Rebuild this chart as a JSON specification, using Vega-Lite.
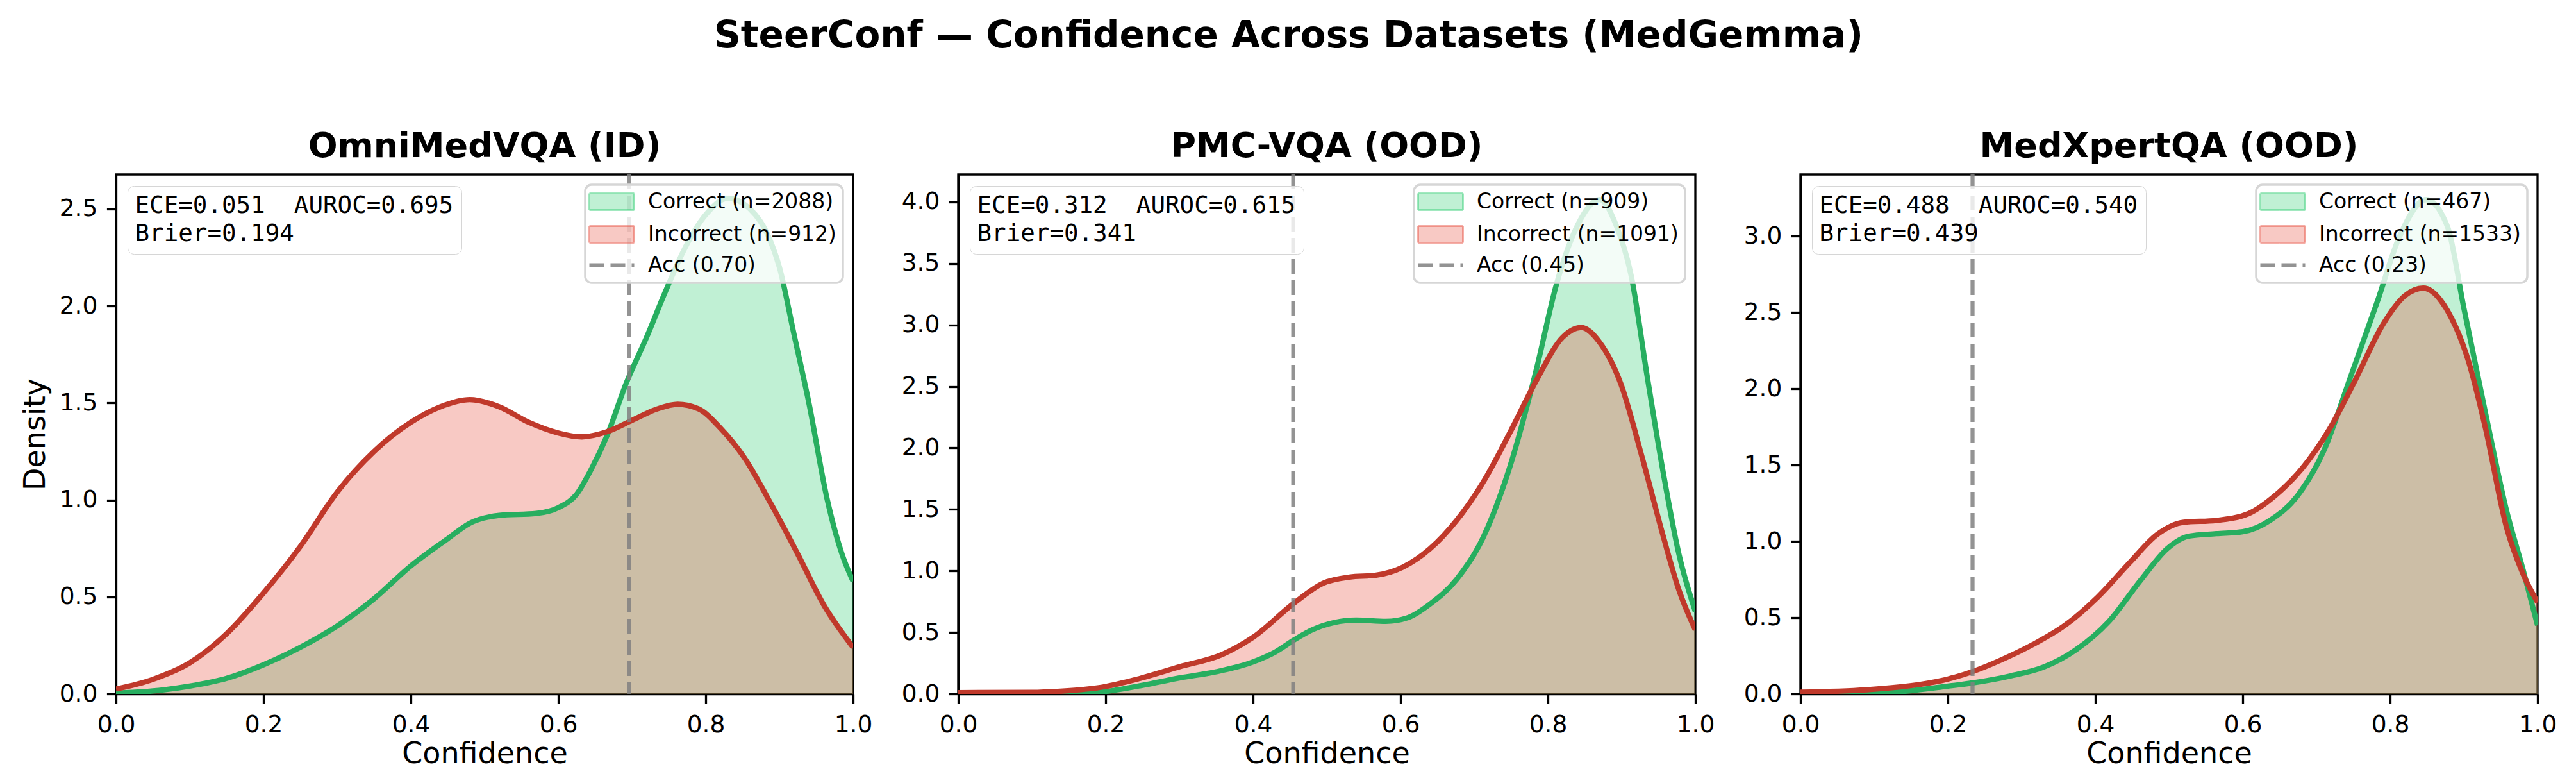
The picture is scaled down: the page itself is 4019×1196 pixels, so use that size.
{
  "$schema": "https://vega.github.io/schema/vega-lite/v6.json",
  "background": "white",
  "padding": {"left": 30, "top": 28, "right": 20, "bottom": 10},
  "title": {"text": "SteerConf — Confidence Across Datasets (MedGemma)", "font": "DejaVu Sans", "fontSize": 58, "fontWeight": "bold", "color": "black", "anchor": "middle", "offset": 114},
  "spacing": 164,
  "bounds": "flush",
  "datasets": {
    "curves": [
      {"panel": "Omni", "series": "Correct (n=2088)", "conf": 0, "density": 0.004},
      {"panel": "Omni", "series": "Correct (n=2088)", "conf": 0.05, "density": 0.015},
      {"panel": "Omni", "series": "Correct (n=2088)", "conf": 0.1, "density": 0.04},
      {"panel": "Omni", "series": "Correct (n=2088)", "conf": 0.15, "density": 0.08},
      {"panel": "Omni", "series": "Correct (n=2088)", "conf": 0.2, "density": 0.15},
      {"panel": "Omni", "series": "Correct (n=2088)", "conf": 0.25, "density": 0.24},
      {"panel": "Omni", "series": "Correct (n=2088)", "conf": 0.3, "density": 0.35},
      {"panel": "Omni", "series": "Correct (n=2088)", "conf": 0.35, "density": 0.49},
      {"panel": "Omni", "series": "Correct (n=2088)", "conf": 0.4, "density": 0.66},
      {"panel": "Omni", "series": "Correct (n=2088)", "conf": 0.45, "density": 0.8},
      {"panel": "Omni", "series": "Correct (n=2088)", "conf": 0.48, "density": 0.88},
      {"panel": "Omni", "series": "Correct (n=2088)", "conf": 0.52, "density": 0.92},
      {"panel": "Omni", "series": "Correct (n=2088)", "conf": 0.57, "density": 0.93},
      {"panel": "Omni", "series": "Correct (n=2088)", "conf": 0.6, "density": 0.96},
      {"panel": "Omni", "series": "Correct (n=2088)", "conf": 0.625, "density": 1.03},
      {"panel": "Omni", "series": "Correct (n=2088)", "conf": 0.645, "density": 1.16},
      {"panel": "Omni", "series": "Correct (n=2088)", "conf": 0.666, "density": 1.33},
      {"panel": "Omni", "series": "Correct (n=2088)", "conf": 0.692, "density": 1.6},
      {"panel": "Omni", "series": "Correct (n=2088)", "conf": 0.72, "density": 1.84},
      {"panel": "Omni", "series": "Correct (n=2088)", "conf": 0.746, "density": 2.08},
      {"panel": "Omni", "series": "Correct (n=2088)", "conf": 0.772, "density": 2.3},
      {"panel": "Omni", "series": "Correct (n=2088)", "conf": 0.8, "density": 2.47},
      {"panel": "Omni", "series": "Correct (n=2088)", "conf": 0.83, "density": 2.555},
      {"panel": "Omni", "series": "Correct (n=2088)", "conf": 0.86, "density": 2.5},
      {"panel": "Omni", "series": "Correct (n=2088)", "conf": 0.885, "density": 2.36},
      {"panel": "Omni", "series": "Correct (n=2088)", "conf": 0.9, "density": 2.2},
      {"panel": "Omni", "series": "Correct (n=2088)", "conf": 0.92, "density": 1.85},
      {"panel": "Omni", "series": "Correct (n=2088)", "conf": 0.94, "density": 1.5},
      {"panel": "Omni", "series": "Correct (n=2088)", "conf": 0.965, "density": 1.0},
      {"panel": "Omni", "series": "Correct (n=2088)", "conf": 0.985, "density": 0.72},
      {"panel": "Omni", "series": "Correct (n=2088)", "conf": 1.0, "density": 0.58},
      {"panel": "Omni", "series": "Incorrect (n=912)", "conf": 0, "density": 0.025},
      {"panel": "Omni", "series": "Incorrect (n=912)", "conf": 0.05, "density": 0.075},
      {"panel": "Omni", "series": "Incorrect (n=912)", "conf": 0.1, "density": 0.16},
      {"panel": "Omni", "series": "Incorrect (n=912)", "conf": 0.15, "density": 0.31},
      {"panel": "Omni", "series": "Incorrect (n=912)", "conf": 0.2, "density": 0.52},
      {"panel": "Omni", "series": "Incorrect (n=912)", "conf": 0.25, "density": 0.76},
      {"panel": "Omni", "series": "Incorrect (n=912)", "conf": 0.3, "density": 1.04},
      {"panel": "Omni", "series": "Incorrect (n=912)", "conf": 0.35, "density": 1.25},
      {"panel": "Omni", "series": "Incorrect (n=912)", "conf": 0.4, "density": 1.4},
      {"panel": "Omni", "series": "Incorrect (n=912)", "conf": 0.44, "density": 1.48},
      {"panel": "Omni", "series": "Incorrect (n=912)", "conf": 0.48, "density": 1.517},
      {"panel": "Omni", "series": "Incorrect (n=912)", "conf": 0.52, "density": 1.48},
      {"panel": "Omni", "series": "Incorrect (n=912)", "conf": 0.56, "density": 1.4},
      {"panel": "Omni", "series": "Incorrect (n=912)", "conf": 0.6, "density": 1.345},
      {"panel": "Omni", "series": "Incorrect (n=912)", "conf": 0.632, "density": 1.325},
      {"panel": "Omni", "series": "Incorrect (n=912)", "conf": 0.665, "density": 1.35},
      {"panel": "Omni", "series": "Incorrect (n=912)", "conf": 0.7, "density": 1.41},
      {"panel": "Omni", "series": "Incorrect (n=912)", "conf": 0.735, "density": 1.47},
      {"panel": "Omni", "series": "Incorrect (n=912)", "conf": 0.762, "density": 1.493},
      {"panel": "Omni", "series": "Incorrect (n=912)", "conf": 0.79, "density": 1.47},
      {"panel": "Omni", "series": "Incorrect (n=912)", "conf": 0.82, "density": 1.37},
      {"panel": "Omni", "series": "Incorrect (n=912)", "conf": 0.852, "density": 1.22},
      {"panel": "Omni", "series": "Incorrect (n=912)", "conf": 0.89, "density": 0.97},
      {"panel": "Omni", "series": "Incorrect (n=912)", "conf": 0.925, "density": 0.72},
      {"panel": "Omni", "series": "Incorrect (n=912)", "conf": 0.96, "density": 0.46},
      {"panel": "Omni", "series": "Incorrect (n=912)", "conf": 1.0, "density": 0.24},

      {"panel": "PMC", "series": "Correct (n=909)", "conf": 0, "density": 0},
      {"panel": "PMC", "series": "Correct (n=909)", "conf": 0.1, "density": 0.0},
      {"panel": "PMC", "series": "Correct (n=909)", "conf": 0.15, "density": 0.005},
      {"panel": "PMC", "series": "Correct (n=909)", "conf": 0.2, "density": 0.02},
      {"panel": "PMC", "series": "Correct (n=909)", "conf": 0.25, "density": 0.07},
      {"panel": "PMC", "series": "Correct (n=909)", "conf": 0.3, "density": 0.13},
      {"panel": "PMC", "series": "Correct (n=909)", "conf": 0.35, "density": 0.18},
      {"panel": "PMC", "series": "Correct (n=909)", "conf": 0.4, "density": 0.26},
      {"panel": "PMC", "series": "Correct (n=909)", "conf": 0.43, "density": 0.34},
      {"panel": "PMC", "series": "Correct (n=909)", "conf": 0.456, "density": 0.44},
      {"panel": "PMC", "series": "Correct (n=909)", "conf": 0.48, "density": 0.52},
      {"panel": "PMC", "series": "Correct (n=909)", "conf": 0.51, "density": 0.58},
      {"panel": "PMC", "series": "Correct (n=909)", "conf": 0.54, "density": 0.6},
      {"panel": "PMC", "series": "Correct (n=909)", "conf": 0.58, "density": 0.59},
      {"panel": "PMC", "series": "Correct (n=909)", "conf": 0.61, "density": 0.62},
      {"panel": "PMC", "series": "Correct (n=909)", "conf": 0.64, "density": 0.73},
      {"panel": "PMC", "series": "Correct (n=909)", "conf": 0.676, "density": 0.93},
      {"panel": "PMC", "series": "Correct (n=909)", "conf": 0.712, "density": 1.27},
      {"panel": "PMC", "series": "Correct (n=909)", "conf": 0.748, "density": 1.84},
      {"panel": "PMC", "series": "Correct (n=909)", "conf": 0.784, "density": 2.63},
      {"panel": "PMC", "series": "Correct (n=909)", "conf": 0.812, "density": 3.34},
      {"panel": "PMC", "series": "Correct (n=909)", "conf": 0.841, "density": 3.82},
      {"panel": "PMC", "series": "Correct (n=909)", "conf": 0.87, "density": 4.02},
      {"panel": "PMC", "series": "Correct (n=909)", "conf": 0.892, "density": 3.82},
      {"panel": "PMC", "series": "Correct (n=909)", "conf": 0.913, "density": 3.4},
      {"panel": "PMC", "series": "Correct (n=909)", "conf": 0.935, "density": 2.57},
      {"panel": "PMC", "series": "Correct (n=909)", "conf": 0.957, "density": 1.78},
      {"panel": "PMC", "series": "Correct (n=909)", "conf": 0.978, "density": 1.13},
      {"panel": "PMC", "series": "Correct (n=909)", "conf": 1.0, "density": 0.67},
      {"panel": "PMC", "series": "Incorrect (n=1091)", "conf": 0, "density": 0.01},
      {"panel": "PMC", "series": "Incorrect (n=1091)", "conf": 0.1, "density": 0.012},
      {"panel": "PMC", "series": "Incorrect (n=1091)", "conf": 0.135, "density": 0.02},
      {"panel": "PMC", "series": "Incorrect (n=1091)", "conf": 0.2, "density": 0.06},
      {"panel": "PMC", "series": "Incorrect (n=1091)", "conf": 0.243, "density": 0.12},
      {"panel": "PMC", "series": "Incorrect (n=1091)", "conf": 0.3, "density": 0.22},
      {"panel": "PMC", "series": "Incorrect (n=1091)", "conf": 0.358, "density": 0.32},
      {"panel": "PMC", "series": "Incorrect (n=1091)", "conf": 0.4, "density": 0.46},
      {"panel": "PMC", "series": "Incorrect (n=1091)", "conf": 0.456, "density": 0.74},
      {"panel": "PMC", "series": "Incorrect (n=1091)", "conf": 0.495, "density": 0.9},
      {"panel": "PMC", "series": "Incorrect (n=1091)", "conf": 0.531, "density": 0.95},
      {"panel": "PMC", "series": "Incorrect (n=1091)", "conf": 0.567, "density": 0.965},
      {"panel": "PMC", "series": "Incorrect (n=1091)", "conf": 0.603, "density": 1.03},
      {"panel": "PMC", "series": "Incorrect (n=1091)", "conf": 0.64, "density": 1.18},
      {"panel": "PMC", "series": "Incorrect (n=1091)", "conf": 0.676, "density": 1.41},
      {"panel": "PMC", "series": "Incorrect (n=1091)", "conf": 0.712, "density": 1.72},
      {"panel": "PMC", "series": "Incorrect (n=1091)", "conf": 0.748, "density": 2.12},
      {"panel": "PMC", "series": "Incorrect (n=1091)", "conf": 0.784, "density": 2.545},
      {"panel": "PMC", "series": "Incorrect (n=1091)", "conf": 0.82, "density": 2.9},
      {"panel": "PMC", "series": "Incorrect (n=1091)", "conf": 0.845, "density": 2.98},
      {"panel": "PMC", "series": "Incorrect (n=1091)", "conf": 0.87, "density": 2.86},
      {"panel": "PMC", "series": "Incorrect (n=1091)", "conf": 0.899, "density": 2.52},
      {"panel": "PMC", "series": "Incorrect (n=1091)", "conf": 0.928, "density": 1.92},
      {"panel": "PMC", "series": "Incorrect (n=1091)", "conf": 0.957, "density": 1.27},
      {"panel": "PMC", "series": "Incorrect (n=1091)", "conf": 0.978, "density": 0.84},
      {"panel": "PMC", "series": "Incorrect (n=1091)", "conf": 1.0, "density": 0.52},

      {"panel": "MedX", "series": "Correct (n=467)", "conf": 0, "density": 0.0},
      {"panel": "MedX", "series": "Correct (n=467)", "conf": 0.08, "density": 0.004},
      {"panel": "MedX", "series": "Correct (n=467)", "conf": 0.126, "density": 0.011},
      {"panel": "MedX", "series": "Correct (n=467)", "conf": 0.199, "density": 0.05},
      {"panel": "MedX", "series": "Correct (n=467)", "conf": 0.235, "density": 0.073},
      {"panel": "MedX", "series": "Correct (n=467)", "conf": 0.286, "density": 0.119},
      {"panel": "MedX", "series": "Correct (n=467)", "conf": 0.33, "density": 0.176},
      {"panel": "MedX", "series": "Correct (n=467)", "conf": 0.374, "density": 0.29},
      {"panel": "MedX", "series": "Correct (n=467)", "conf": 0.418, "density": 0.473},
      {"panel": "MedX", "series": "Correct (n=467)", "conf": 0.462, "density": 0.748},
      {"panel": "MedX", "series": "Correct (n=467)", "conf": 0.498, "density": 0.954},
      {"panel": "MedX", "series": "Correct (n=467)", "conf": 0.527, "density": 1.034},
      {"panel": "MedX", "series": "Correct (n=467)", "conf": 0.564, "density": 1.05},
      {"panel": "MedX", "series": "Correct (n=467)", "conf": 0.6, "density": 1.063},
      {"panel": "MedX", "series": "Correct (n=467)", "conf": 0.637, "density": 1.137},
      {"panel": "MedX", "series": "Correct (n=467)", "conf": 0.674, "density": 1.297},
      {"panel": "MedX", "series": "Correct (n=467)", "conf": 0.71, "density": 1.594},
      {"panel": "MedX", "series": "Correct (n=467)", "conf": 0.746, "density": 2.074},
      {"panel": "MedX", "series": "Correct (n=467)", "conf": 0.783, "density": 2.577},
      {"panel": "MedX", "series": "Correct (n=467)", "conf": 0.812, "density": 2.99},
      {"panel": "MedX", "series": "Correct (n=467)", "conf": 0.849, "density": 3.24},
      {"panel": "MedX", "series": "Correct (n=467)", "conf": 0.878, "density": 3.06},
      {"panel": "MedX", "series": "Correct (n=467)", "conf": 0.9, "density": 2.53},
      {"panel": "MedX", "series": "Correct (n=467)", "conf": 0.929, "density": 1.85},
      {"panel": "MedX", "series": "Correct (n=467)", "conf": 0.958, "density": 1.2},
      {"panel": "MedX", "series": "Correct (n=467)", "conf": 0.98, "density": 0.82},
      {"panel": "MedX", "series": "Correct (n=467)", "conf": 1.0, "density": 0.45},
      {"panel": "MedX", "series": "Incorrect (n=1533)", "conf": 0, "density": 0.011},
      {"panel": "MedX", "series": "Incorrect (n=1533)", "conf": 0.089, "density": 0.027},
      {"panel": "MedX", "series": "Incorrect (n=1533)", "conf": 0.162, "density": 0.062},
      {"panel": "MedX", "series": "Incorrect (n=1533)", "conf": 0.199, "density": 0.096},
      {"panel": "MedX", "series": "Incorrect (n=1533)", "conf": 0.235, "density": 0.149},
      {"panel": "MedX", "series": "Incorrect (n=1533)", "conf": 0.272, "density": 0.222},
      {"panel": "MedX", "series": "Incorrect (n=1533)", "conf": 0.316, "density": 0.325},
      {"panel": "MedX", "series": "Incorrect (n=1533)", "conf": 0.359, "density": 0.45},
      {"panel": "MedX", "series": "Incorrect (n=1533)", "conf": 0.403, "density": 0.633},
      {"panel": "MedX", "series": "Incorrect (n=1533)", "conf": 0.447, "density": 0.862},
      {"panel": "MedX", "series": "Incorrect (n=1533)", "conf": 0.484, "density": 1.045},
      {"panel": "MedX", "series": "Incorrect (n=1533)", "conf": 0.52, "density": 1.125},
      {"panel": "MedX", "series": "Incorrect (n=1533)", "conf": 0.564, "density": 1.137},
      {"panel": "MedX", "series": "Incorrect (n=1533)", "conf": 0.608, "density": 1.182},
      {"panel": "MedX", "series": "Incorrect (n=1533)", "conf": 0.644, "density": 1.3},
      {"panel": "MedX", "series": "Incorrect (n=1533)", "conf": 0.681, "density": 1.48},
      {"panel": "MedX", "series": "Incorrect (n=1533)", "conf": 0.717, "density": 1.73},
      {"panel": "MedX", "series": "Incorrect (n=1533)", "conf": 0.754, "density": 2.07},
      {"panel": "MedX", "series": "Incorrect (n=1533)", "conf": 0.79, "density": 2.42},
      {"panel": "MedX", "series": "Incorrect (n=1533)", "conf": 0.82, "density": 2.61},
      {"panel": "MedX", "series": "Incorrect (n=1533)", "conf": 0.845, "density": 2.66},
      {"panel": "MedX", "series": "Incorrect (n=1533)", "conf": 0.878, "density": 2.51},
      {"panel": "MedX", "series": "Incorrect (n=1533)", "conf": 0.907, "density": 2.17},
      {"panel": "MedX", "series": "Incorrect (n=1533)", "conf": 0.929, "density": 1.75},
      {"panel": "MedX", "series": "Incorrect (n=1533)", "conf": 0.958, "density": 1.09},
      {"panel": "MedX", "series": "Incorrect (n=1533)", "conf": 0.98, "density": 0.79},
      {"panel": "MedX", "series": "Incorrect (n=1533)", "conf": 1.0, "density": 0.6}
    ],
    "stats": [
      {"panel": "Omni", "acc": 0.696, "accLabel": "Acc (0.70)"},
      {"panel": "PMC", "acc": 0.4545, "accLabel": "Acc (0.45)"},
      {"panel": "MedX", "acc": 0.2335, "accLabel": "Acc (0.23)"}
    ],
    "metrics": [
      {"panel": "Omni", "line": "ECE=0.051\u00a0\u00a0AUROC=0.695"},
      {"panel": "Omni", "line": "Brier=0.194"},
      {"panel": "PMC", "line": "ECE=0.312\u00a0\u00a0AUROC=0.615"},
      {"panel": "PMC", "line": "Brier=0.341"},
      {"panel": "MedX", "line": "ECE=0.488\u00a0\u00a0AUROC=0.540"},
      {"panel": "MedX", "line": "Brier=0.439"}
    ]
  },
  "hconcat": [
    {
      "width": 1150, "height": 810,
      "title": {"text": "OmniMedVQA (ID)", "font": "DejaVu Sans", "fontSize": 54, "fontWeight": "bold", "color": "black", "anchor": "middle", "baseline": "alphabetic", "offset": -30},
      "layer": [
        {"data": {"name": "curves"}, "transform": [{"filter": "datum.panel === 'Omni' && datum.series === 'Correct (n=2088)'"}],
         "mark": {"type": "area", "interpolate": "monotone", "fillOpacity": 0.3, "clip": true},
         "encoding": {
           "x": {"field": "conf", "type": "quantitative", "title": "Confidence", "scale": {"domain": [0, 1], "nice": false, "zero": false}, "axis": {"values": [0, 0.2, 0.4, 0.6, 0.8, 1.0], "format": ".1f"}},
           "y": {"field": "density", "type": "quantitative", "stack": null, "title": "Density", "scale": {"domain": [0, 2.678], "nice": false}, "axis": {"values": [0, 0.5, 1, 1.5, 2, 2.5], "format": ".1f"}},
           "color": {"field": "series", "type": "nominal", "scale": {"domain": ["Correct (n=2088)", "Incorrect (n=912)", "Acc (0.70)"], "range": ["#2ecc71", "#e74c3c", "gray"]},
             "legend": {"title": null, "orient": "top-right", "offset": 16, "labelFont": "DejaVu Sans", "labelFontSize": 33, "labelColor": "black", "labelOffset": 55, "labelLimit": 800, "symbolSize": 1600, "symbolStrokeWidth": 0, "rowPadding": 12, "padding": 10, "fillColor": "rgba(255,255,255,0.8)", "strokeColor": "#d6d6d6", "cornerRadius": 10,
               "encode": {
                 "legend": {"update": {"strokeWidth": {"value": 3.5}}},
                 "symbols": {"update": {
                   "shape": {"signal": "substring(datum.value, 0, 3) === 'Acc' ? 'M-1,0H2.5' : 'M-1,-0.65H2.5V0.65H-1Z'"},
                   "fill": {"signal": "substring(datum.value, 0, 3) === 'Cor' ? '#2ecc71' : substring(datum.value, 0, 3) === 'Inc' ? '#e74c3c' : 'transparent'"},
                   "fillOpacity": {"value": 0.3},
                   "stroke": {"signal": "substring(datum.value, 0, 3) === 'Cor' ? '#2ecc71' : substring(datum.value, 0, 3) === 'Inc' ? '#e74c3c' : 'gray'"},
                   "strokeOpacity": {"signal": "substring(datum.value, 0, 3) === 'Acc' ? 0.85 : 0.45"},
                   "strokeWidth": {"signal": "substring(datum.value, 0, 3) === 'Acc' ? 6.25 : 3"},
                   "strokeDash": {"signal": "substring(datum.value, 0, 3) === 'Acc' ? [23, 10] : [1, 0]"},
                   "opacity": {"value": 1}
                 }}
               }}}
         }},
        {"data": {"name": "curves"}, "transform": [{"filter": "datum.panel === 'Omni' && datum.series === 'Incorrect (n=912)'"}],
         "mark": {"type": "area", "interpolate": "monotone", "fillOpacity": 0.3, "clip": true},
         "encoding": {"x": {"field": "conf", "type": "quantitative"}, "y": {"field": "density", "type": "quantitative", "stack": null}, "color": {"field": "series", "type": "nominal"}}},
        {"data": {"name": "curves"}, "transform": [{"filter": "datum.panel === 'Omni' && datum.series === 'Correct (n=2088)'"}],
         "mark": {"type": "line", "interpolate": "monotone", "color": "#27ae60", "strokeWidth": 8.3, "clip": true},
         "encoding": {"x": {"field": "conf", "type": "quantitative"}, "y": {"field": "density", "type": "quantitative"}}},
        {"data": {"name": "curves"}, "transform": [{"filter": "datum.panel === 'Omni' && datum.series === 'Incorrect (n=912)'"}],
         "mark": {"type": "line", "interpolate": "monotone", "color": "#c0392b", "strokeWidth": 8.3, "clip": true},
         "encoding": {"x": {"field": "conf", "type": "quantitative"}, "y": {"field": "density", "type": "quantitative"}}},
        {"data": {"name": "stats"}, "transform": [{"filter": "datum.panel === 'Omni'"}],
         "mark": {"type": "rule", "strokeDash": [23, 10], "strokeWidth": 6.25, "opacity": 0.85},
         "encoding": {"x": {"field": "acc", "type": "quantitative"}, "color": {"field": "accLabel", "type": "nominal"}}},
        {"data": {"name": "metrics"}, "transform": [{"filter": "datum.panel === 'Omni'"}],
         "mark": {"type": "point", "opacity": 0},
         "encoding": {"shape": {"field": "line", "type": "nominal", "scale": {"domain": ["ECE=0.051\u00a0\u00a0AUROC=0.695", "Brier=0.194"]},
           "legend": {"title": null, "orient": "top-left", "offset": 18, "labelFont": "DejaVu Sans Mono", "labelFontSize": 37.5, "labelColor": "black", "labelOffset": -38, "labelLimit": 900, "symbolSize": 0, "symbolStrokeWidth": 0, "symbolOpacity": 0, "rowPadding": 5, "padding": 12, "fillColor": "rgba(255,255,255,0.8)", "strokeColor": "#d6d6d6", "cornerRadius": 10,
             "encode": {"legend": {"update": {"strokeWidth": {"value": 3.5}}}}}}}}
      ]
    },
    {
      "width": 1150, "height": 810,
      "title": {"text": "PMC-VQA (OOD)", "font": "DejaVu Sans", "fontSize": 54, "fontWeight": "bold", "color": "black", "anchor": "middle", "baseline": "alphabetic", "offset": -30},
      "layer": [
        {"data": {"name": "curves"}, "transform": [{"filter": "datum.panel === 'PMC' && datum.series === 'Correct (n=909)'"}],
         "mark": {"type": "area", "interpolate": "monotone", "fillOpacity": 0.3, "clip": true},
         "encoding": {
           "x": {"field": "conf", "type": "quantitative", "title": "Confidence", "scale": {"domain": [0, 1], "nice": false, "zero": false}, "axis": {"values": [0, 0.2, 0.4, 0.6, 0.8, 1.0], "format": ".1f"}},
           "y": {"field": "density", "type": "quantitative", "stack": null, "title": null, "scale": {"domain": [0, 4.224], "nice": false}, "axis": {"values": [0, 0.5, 1, 1.5, 2, 2.5, 3, 3.5, 4], "format": ".1f", "title": null}},
           "color": {"field": "series", "type": "nominal", "scale": {"domain": ["Correct (n=909)", "Incorrect (n=1091)", "Acc (0.45)"], "range": ["#2ecc71", "#e74c3c", "gray"]},
             "legend": {"title": null, "orient": "top-right", "offset": 16, "labelFont": "DejaVu Sans", "labelFontSize": 33, "labelColor": "black", "labelOffset": 55, "labelLimit": 800, "symbolSize": 1600, "symbolStrokeWidth": 0, "rowPadding": 12, "padding": 10, "fillColor": "rgba(255,255,255,0.8)", "strokeColor": "#d6d6d6", "cornerRadius": 10,
               "encode": {
                 "legend": {"update": {"strokeWidth": {"value": 3.5}}},
                 "symbols": {"update": {
                   "shape": {"signal": "substring(datum.value, 0, 3) === 'Acc' ? 'M-1,0H2.5' : 'M-1,-0.65H2.5V0.65H-1Z'"},
                   "fill": {"signal": "substring(datum.value, 0, 3) === 'Cor' ? '#2ecc71' : substring(datum.value, 0, 3) === 'Inc' ? '#e74c3c' : 'transparent'"},
                   "fillOpacity": {"value": 0.3},
                   "stroke": {"signal": "substring(datum.value, 0, 3) === 'Cor' ? '#2ecc71' : substring(datum.value, 0, 3) === 'Inc' ? '#e74c3c' : 'gray'"},
                   "strokeOpacity": {"signal": "substring(datum.value, 0, 3) === 'Acc' ? 0.85 : 0.45"},
                   "strokeWidth": {"signal": "substring(datum.value, 0, 3) === 'Acc' ? 6.25 : 3"},
                   "strokeDash": {"signal": "substring(datum.value, 0, 3) === 'Acc' ? [23, 10] : [1, 0]"},
                   "opacity": {"value": 1}
                 }}
               }}}
         }},
        {"data": {"name": "curves"}, "transform": [{"filter": "datum.panel === 'PMC' && datum.series === 'Incorrect (n=1091)'"}],
         "mark": {"type": "area", "interpolate": "monotone", "fillOpacity": 0.3, "clip": true},
         "encoding": {"x": {"field": "conf", "type": "quantitative"}, "y": {"field": "density", "type": "quantitative", "stack": null}, "color": {"field": "series", "type": "nominal"}}},
        {"data": {"name": "curves"}, "transform": [{"filter": "datum.panel === 'PMC' && datum.series === 'Correct (n=909)'"}],
         "mark": {"type": "line", "interpolate": "monotone", "color": "#27ae60", "strokeWidth": 8.3, "clip": true},
         "encoding": {"x": {"field": "conf", "type": "quantitative"}, "y": {"field": "density", "type": "quantitative"}}},
        {"data": {"name": "curves"}, "transform": [{"filter": "datum.panel === 'PMC' && datum.series === 'Incorrect (n=1091)'"}],
         "mark": {"type": "line", "interpolate": "monotone", "color": "#c0392b", "strokeWidth": 8.3, "clip": true},
         "encoding": {"x": {"field": "conf", "type": "quantitative"}, "y": {"field": "density", "type": "quantitative"}}},
        {"data": {"name": "stats"}, "transform": [{"filter": "datum.panel === 'PMC'"}],
         "mark": {"type": "rule", "strokeDash": [23, 10], "strokeWidth": 6.25, "opacity": 0.85},
         "encoding": {"x": {"field": "acc", "type": "quantitative"}, "color": {"field": "accLabel", "type": "nominal"}}},
        {"data": {"name": "metrics"}, "transform": [{"filter": "datum.panel === 'PMC'"}],
         "mark": {"type": "point", "opacity": 0},
         "encoding": {"shape": {"field": "line", "type": "nominal", "scale": {"domain": ["ECE=0.312\u00a0\u00a0AUROC=0.615", "Brier=0.341"]},
           "legend": {"title": null, "orient": "top-left", "offset": 18, "labelFont": "DejaVu Sans Mono", "labelFontSize": 37.5, "labelColor": "black", "labelOffset": -38, "labelLimit": 900, "symbolSize": 0, "symbolStrokeWidth": 0, "symbolOpacity": 0, "rowPadding": 5, "padding": 12, "fillColor": "rgba(255,255,255,0.8)", "strokeColor": "#d6d6d6", "cornerRadius": 10,
             "encode": {"legend": {"update": {"strokeWidth": {"value": 3.5}}}}}}}}
      ]
    },
    {
      "width": 1150, "height": 810,
      "title": {"text": "MedXpertQA (OOD)", "font": "DejaVu Sans", "fontSize": 54, "fontWeight": "bold", "color": "black", "anchor": "middle", "baseline": "alphabetic", "offset": -30},
      "layer": [
        {"data": {"name": "curves"}, "transform": [{"filter": "datum.panel === 'MedX' && datum.series === 'Correct (n=467)'"}],
         "mark": {"type": "area", "interpolate": "monotone", "fillOpacity": 0.3, "clip": true},
         "encoding": {
           "x": {"field": "conf", "type": "quantitative", "title": "Confidence", "scale": {"domain": [0, 1], "nice": false, "zero": false}, "axis": {"values": [0, 0.2, 0.4, 0.6, 0.8, 1.0], "format": ".1f"}},
           "y": {"field": "density", "type": "quantitative", "stack": null, "title": null, "scale": {"domain": [0, 3.405], "nice": false}, "axis": {"values": [0, 0.5, 1, 1.5, 2, 2.5, 3], "format": ".1f", "title": null}},
           "color": {"field": "series", "type": "nominal", "scale": {"domain": ["Correct (n=467)", "Incorrect (n=1533)", "Acc (0.23)"], "range": ["#2ecc71", "#e74c3c", "gray"]},
             "legend": {"title": null, "orient": "top-right", "offset": 16, "labelFont": "DejaVu Sans", "labelFontSize": 33, "labelColor": "black", "labelOffset": 55, "labelLimit": 800, "symbolSize": 1600, "symbolStrokeWidth": 0, "rowPadding": 12, "padding": 10, "fillColor": "rgba(255,255,255,0.8)", "strokeColor": "#d6d6d6", "cornerRadius": 10,
               "encode": {
                 "legend": {"update": {"strokeWidth": {"value": 3.5}}},
                 "symbols": {"update": {
                   "shape": {"signal": "substring(datum.value, 0, 3) === 'Acc' ? 'M-1,0H2.5' : 'M-1,-0.65H2.5V0.65H-1Z'"},
                   "fill": {"signal": "substring(datum.value, 0, 3) === 'Cor' ? '#2ecc71' : substring(datum.value, 0, 3) === 'Inc' ? '#e74c3c' : 'transparent'"},
                   "fillOpacity": {"value": 0.3},
                   "stroke": {"signal": "substring(datum.value, 0, 3) === 'Cor' ? '#2ecc71' : substring(datum.value, 0, 3) === 'Inc' ? '#e74c3c' : 'gray'"},
                   "strokeOpacity": {"signal": "substring(datum.value, 0, 3) === 'Acc' ? 0.85 : 0.45"},
                   "strokeWidth": {"signal": "substring(datum.value, 0, 3) === 'Acc' ? 6.25 : 3"},
                   "strokeDash": {"signal": "substring(datum.value, 0, 3) === 'Acc' ? [23, 10] : [1, 0]"},
                   "opacity": {"value": 1}
                 }}
               }}}
         }},
        {"data": {"name": "curves"}, "transform": [{"filter": "datum.panel === 'MedX' && datum.series === 'Incorrect (n=1533)'"}],
         "mark": {"type": "area", "interpolate": "monotone", "fillOpacity": 0.3, "clip": true},
         "encoding": {"x": {"field": "conf", "type": "quantitative"}, "y": {"field": "density", "type": "quantitative", "stack": null}, "color": {"field": "series", "type": "nominal"}}},
        {"data": {"name": "curves"}, "transform": [{"filter": "datum.panel === 'MedX' && datum.series === 'Correct (n=467)'"}],
         "mark": {"type": "line", "interpolate": "monotone", "color": "#27ae60", "strokeWidth": 8.3, "clip": true},
         "encoding": {"x": {"field": "conf", "type": "quantitative"}, "y": {"field": "density", "type": "quantitative"}}},
        {"data": {"name": "curves"}, "transform": [{"filter": "datum.panel === 'MedX' && datum.series === 'Incorrect (n=1533)'"}],
         "mark": {"type": "line", "interpolate": "monotone", "color": "#c0392b", "strokeWidth": 8.3, "clip": true},
         "encoding": {"x": {"field": "conf", "type": "quantitative"}, "y": {"field": "density", "type": "quantitative"}}},
        {"data": {"name": "stats"}, "transform": [{"filter": "datum.panel === 'MedX'"}],
         "mark": {"type": "rule", "strokeDash": [23, 10], "strokeWidth": 6.25, "opacity": 0.85},
         "encoding": {"x": {"field": "acc", "type": "quantitative"}, "color": {"field": "accLabel", "type": "nominal"}}},
        {"data": {"name": "metrics"}, "transform": [{"filter": "datum.panel === 'MedX'"}],
         "mark": {"type": "point", "opacity": 0},
         "encoding": {"shape": {"field": "line", "type": "nominal", "scale": {"domain": ["ECE=0.488\u00a0\u00a0AUROC=0.540", "Brier=0.439"]},
           "legend": {"title": null, "orient": "top-left", "offset": 18, "labelFont": "DejaVu Sans Mono", "labelFontSize": 37.5, "labelColor": "black", "labelOffset": -38, "labelLimit": 900, "symbolSize": 0, "symbolStrokeWidth": 0, "symbolOpacity": 0, "rowPadding": 5, "padding": 12, "fillColor": "rgba(255,255,255,0.8)", "strokeColor": "#d6d6d6", "cornerRadius": 10,
             "encode": {"legend": {"update": {"strokeWidth": {"value": 3.5}}}}}}}}
      ]
    }
  ],
  "resolve": {"scale": {"color": "independent", "shape": "independent", "x": "independent", "y": "independent"}, "legend": {"color": "independent", "shape": "independent"}},
  "config": {
    "font": "DejaVu Sans",
    "view": {"stroke": "black", "strokeWidth": 3.3},
    "axis": {"labelFont": "DejaVu Sans", "labelFontSize": 37.5, "labelColor": "black", "titleFont": "DejaVu Sans", "titleFontSize": 46, "titleFontWeight": "normal", "titleColor": "black", "tickColor": "black", "tickWidth": 3.3, "tickSize": 14.6, "labelPadding": 14.6, "domainColor": "black", "domainWidth": 3.3, "grid": false, "zindex": 1, "labelFlush": false},
    "axisX": {"titlePadding": 5},
    "axisY": {"titlePadding": 13}
  }
}
